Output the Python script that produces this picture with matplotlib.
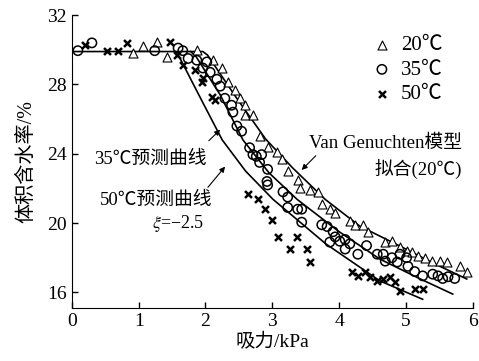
import matplotlib
matplotlib.use("Agg")
import matplotlib.pyplot as plt

plt.rcParams['font.family'] = ['Liberation Serif', 'Noto Sans CJK SC', 'DejaVu Sans']
plt.rcParams['mathtext.fontset'] = 'stix'

# measured points, 20 C
x20 = [0.91, 1.06, 1.27, 1.42, 1.87, 2.11, 2.25, 2.34, 2.44, 2.51, 2.59, 2.59, 2.71,
       2.81, 2.93, 3.07, 3.14, 3.23, 3.38, 3.41, 3.56, 3.68, 3.74, 3.86, 3.94, 4.16,
       4.24, 4.36, 4.43, 4.69, 4.79, 4.91, 5.01, 5.09, 5.18, 5.28, 5.39, 5.51, 5.61,
       5.81, 5.91]
y20 = [29.8, 30.2, 30.45, 29.6, 30.0, 29.4, 28.95, 28.15, 27.7, 27.2, 26.8, 26.25, 26.25,
       25.0, 24.4, 24.1, 23.7, 23.0, 22.5, 22.05, 21.9, 21.8, 21.1, 20.8, 20.6, 20.1,
       19.9, 19.9, 19.5, 18.9, 18.95, 18.6, 18.4, 18.3, 18.1, 18.0, 17.8, 17.8, 17.75,
       17.5, 17.2]

# measured points, 35 C
x35 = [0.09, 0.30, 1.24, 1.59, 1.66, 1.74, 1.87, 2.02, 1.96, 2.07, 2.17, 2.22, 2.29,
       2.39, 2.41, 2.47, 2.54, 2.66, 2.71, 2.76, 2.84, 2.81, 2.93, 2.92, 2.93, 3.16,
       3.23, 3.23, 3.38, 3.44, 3.44, 3.74, 3.82, 3.91, 3.94, 3.86, 4.01, 4.09, 4.09,
       4.16, 4.28, 4.41, 4.57, 4.66, 4.69, 4.79, 4.87, 4.91, 5.01, 5.03, 5.13, 5.25,
       5.40, 5.48, 5.55, 5.63, 5.73]
y35 = [29.95, 30.4, 29.95, 30.1, 29.95, 29.5, 29.4, 29.3, 28.95, 28.7, 28.3, 27.9, 27.2,
       26.8, 26.4, 25.6, 25.3, 24.35, 23.95, 23.85, 23.95, 23.5, 23.1, 22.4, 22.2, 21.8,
       21.5, 20.9, 20.8, 20.8, 20.05, 19.9, 19.8, 19.5, 19.2, 18.9, 18.95, 19.05, 18.5,
       18.8, 18.2, 18.7, 18.2, 18.2, 17.8, 18.0, 17.75, 18.2, 18.0, 17.5, 17.2, 16.95,
       17.05, 16.95, 16.8, 16.9, 16.8]

# measured points, 50 C
x50 = [0.19, 0.52, 0.69, 0.82, 1.47, 1.57, 1.66, 1.84, 1.96, 1.95, 2.10, 2.14,
       2.63, 2.78, 2.89, 2.99, 3.08, 3.26, 3.37, 3.52, 3.56, 4.19, 4.28, 4.38, 4.46,
       4.57, 4.66, 4.76, 4.83, 4.91, 5.13, 5.25]
y50 = [30.3, 29.95, 29.95, 30.4, 30.45, 29.7, 29.1, 28.85, 28.4, 28.15, 27.3, 27.1,
       21.65, 21.4, 20.8, 20.2, 19.2, 18.5, 19.2, 18.5, 17.75, 17.2, 16.95, 17.2, 16.9,
       16.65, 16.75, 16.9, 16.6, 16.1, 16.2, 16.2]

# curves
fit20_x = [0, 1.96, 2.03, 2.45, 2.9, 3.3, 3.79, 4.31, 4.91, 5.4, 5.91]
fit20_y = [29.9, 29.9, 29.7, 27.3, 24.85, 23.2, 21.37, 19.82, 18.67, 17.7, 16.77]
pre35_x = [1.78, 1.86, 2.22, 2.56, 2.95, 3.37, 4.0, 4.61, 5.2, 5.7]
pre35_y = [29.9, 29.6, 27.4, 24.8, 22.9, 21.37, 19.5, 17.92, 16.8, 15.9]
pre50_x = [1.55, 1.62, 1.9, 2.25, 2.6, 3.01, 3.8, 4.61, 5.25]
pre50_y = [29.9, 29.5, 27.4, 24.8, 23.0, 21.37, 18.8, 16.66, 15.6]

fig = plt.figure(figsize=(4.79, 3.61), dpi=100)
ax = fig.add_axes([0.150, 0.147, 0.837, 0.811])

ax.plot(fit20_x, fit20_y, color='black', lw=1.2)
ax.plot(pre35_x, pre35_y, color='black', lw=1.2)
ax.plot(pre50_x, pre50_y, color='black', lw=1.2)

ax.scatter(x20, y20, marker='^', s=42, facecolors='white', edgecolors='black', linewidths=0.8, label='20℃', zorder=3)
ax.scatter(x35, y35, marker='o', s=45, facecolors='none', edgecolors='black', linewidths=1.1, label='35℃', zorder=3)
ax.scatter(x50, y50, marker='x', s=25, color='black', linewidths=1.8, label='50℃', zorder=3)

ax.set_xlim(0, 6)
ax.set_ylim(15.1, 32)
ax.set_xticks([0, 1, 2, 3, 4, 5, 6])
ax.set_yticks([16, 20, 24, 28, 32])
ax.spines['top'].set_visible(False)
ax.spines['right'].set_visible(False)
ax.tick_params(direction='in', length=4, labelsize=14, width=1)
ax.set_xlabel('吸力/kPa', fontsize=14, labelpad=2)
ax.set_ylabel('体积含水率/%', fontsize=14.5, labelpad=8)

ax.legend(loc='upper left', bbox_to_anchor=(0.75, 0.93), frameon=False, fontsize=15,
          handlelength=0.9, handletextpad=0.45, labelspacing=0.24, borderpad=0, borderaxespad=0)

ax.annotate('', xy=(2.25, 25.5), xytext=(2.02, 24.64),
            arrowprops=dict(arrowstyle='-|>', color='black', lw=0.8, mutation_scale=8))
ax.text(1.18, 23.65, '35℃预测曲线', fontsize=13.5, ha='center', va='center')
ax.annotate('', xy=(2.32, 23.38), xytext=(2.01, 21.94),
            arrowprops=dict(arrowstyle='-|>', color='black', lw=0.8, mutation_scale=8))
ax.text(1.265, 21.33, '50℃预测曲线', fontsize=13.5, ha='center', va='center')
ax.text(1.59, 20.0, r'$\xi$=−2.5', fontsize=13, ha='center', va='center')
ax.annotate('', xy=(3.41, 22.95), xytext=(3.68, 24.0),
            arrowprops=dict(arrowstyle='-|>', color='black', lw=0.8, mutation_scale=8))
ax.text(4.69, 24.6, 'Van Genuchten模型', fontsize=13.5, ha='center', va='center')
ax.text(5.84, 23.1, '拟合(20℃)', fontsize=13.5, ha='right', va='center')

fig.savefig('out.png', dpi=100)
